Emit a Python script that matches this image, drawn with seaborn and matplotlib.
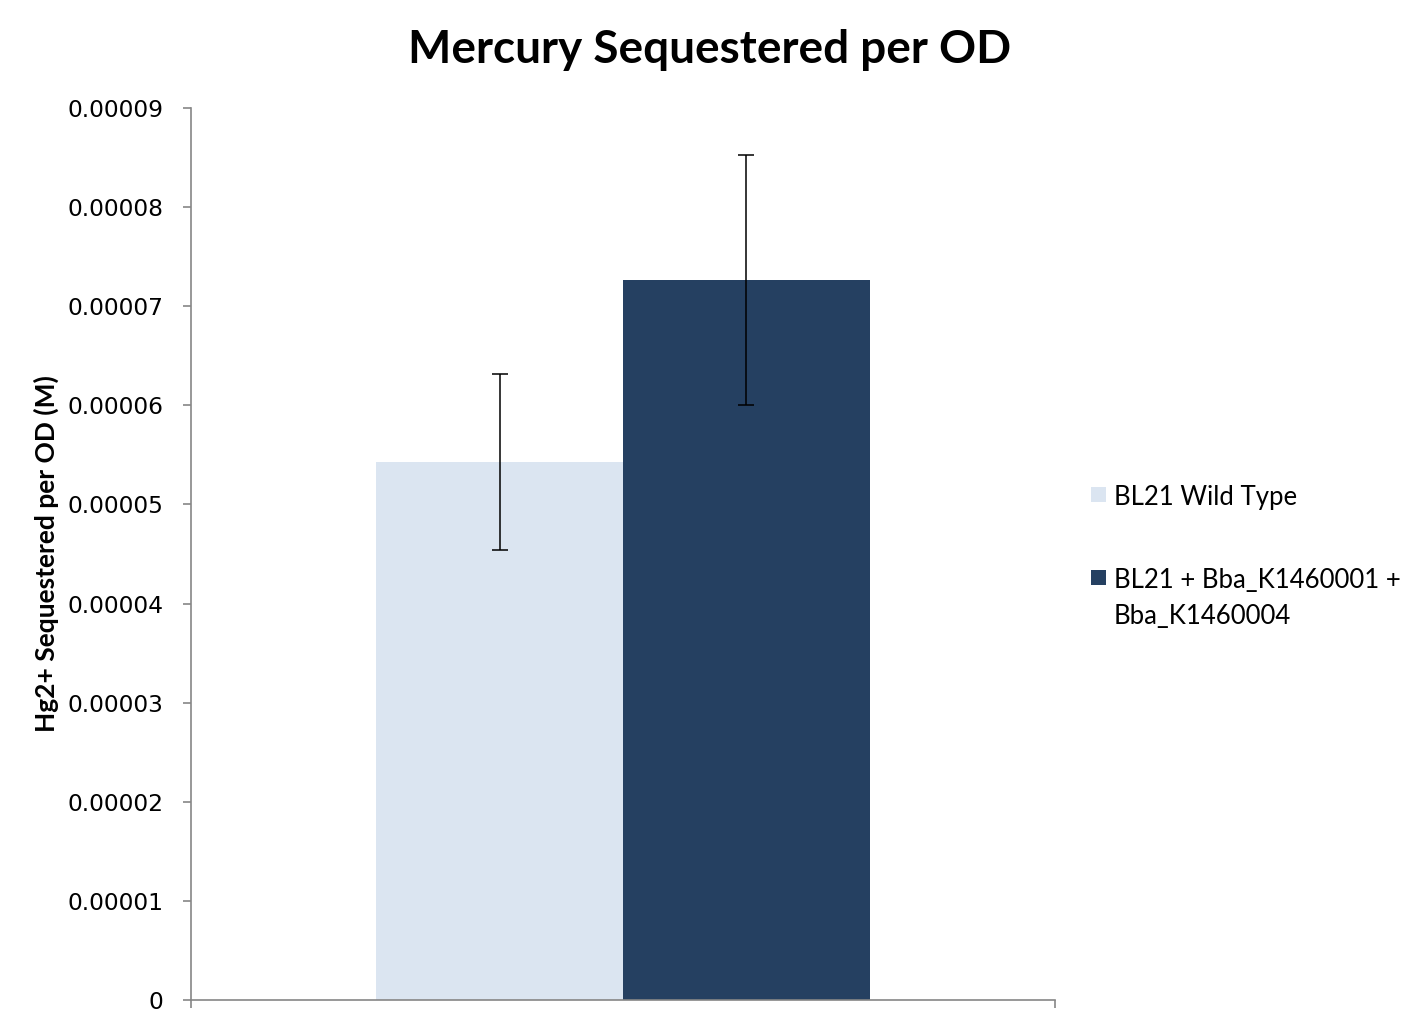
import matplotlib
matplotlib.use("Agg")
import matplotlib.pyplot as plt
import seaborn as sns
import pandas as pd
from matplotlib.patches import Rectangle

# ---- data ----
groups = ["BL21 Wild Type", "BL21 + Bba_K1460001 +\nBba_K1460004"]
values = [5.43e-5, 7.265e-5]
errors = [0.89e-5, 1.26e-5]
colors = ["#DBE5F1", "#254061"]
yticks = [0, 1e-5, 2e-5, 3e-5, 4e-5, 5e-5, 6e-5, 7e-5, 8e-5, 9e-5]
ytick_labels = ["0", "0.00001", "0.00002", "0.00003", "0.00004",
                "0.00005", "0.00006", "0.00007", "0.00008", "0.00009"]
title = "Mercury Sequestered per OD"
ylabel = "Hg2+ Sequestered per OD (M)"

df = pd.DataFrame({"cat": ["All"] * len(groups), "group": groups, "value": values})

sns.set_style("white")
plt.rcParams["font.family"] = ["DejaVu Sans"]
plt.rcParams["text.color"] = "black"
plt.rcParams["axes.labelcolor"] = "black"
plt.rcParams["xtick.color"] = "black"
plt.rcParams["ytick.color"] = "black"

W, H = 1420, 1029
fig = plt.figure(figsize=(W / 100, H / 100), dpi=100)
ax = fig.add_axes([191 / W, 1 - 1000 / H, (1055 - 191) / W, (1000 - 108) / H])

sns.barplot(data=df, x="cat", y="value", hue="group", hue_order=groups,
            palette=colors, width=0.571, errorbar=None, legend=False,
            saturation=1, ax=ax)

for cont, err in zip(ax.containers, errors):
    for p in cont.patches:
        p.set_edgecolor("none")
        p.set_linewidth(0)
        xc = p.get_x() + p.get_width() / 2
        ax.errorbar(xc, p.get_height(), yerr=err, fmt="none", ecolor="black",
                    elinewidth=1.1, capsize=5.5, capthick=1.1)

ax.set_xlim(-0.5, 0.5)
ax.set_ylim(0, 9e-5)
ax.set_yticks(yticks)
ax.set_yticklabels(ytick_labels)
ax.set_xticks([-0.5, 0.5])
ax.set_xticklabels(["", ""])
ax.set_xlabel("")
ax.set_ylabel(ylabel, fontfamily="Lato", fontweight="bold", fontsize=19,
              labelpad=6, color="black")

spine_c = "#868686"
for s in ["top", "right"]:
    ax.spines[s].set_visible(False)
for s in ["left", "bottom"]:
    ax.spines[s].set_color(spine_c)
    ax.spines[s].set_linewidth(1.2)
ax.tick_params(axis="y", direction="out", length=6, width=1.2, color=spine_c,
               pad=14, left=True, labelsize=16.8, labelcolor="black")
ax.tick_params(axis="x", direction="out", length=6, width=1.2, color=spine_c, bottom=True)
ax.grid(False)

fig.text(0.5, 1 - 50 / H, title, ha="center", va="center",
         fontfamily="Lato", fontweight="bold", fontsize=33, color="black")

# legend (drawn in figure pixel coordinates)
leg_y = [494.5, 577.5]
for c, lab, yc in zip(colors, groups, leg_y):
    fig.patches.append(Rectangle((1091 / W, 1 - (yc + 7.5) / H), 15 / W, 15 / H,
                                 transform=fig.transFigure, facecolor=c,
                                 edgecolor="none", figure=fig))
    fig.text(1114 / W, 1 - (yc - 10) / H, lab, ha="left", va="top",
             fontfamily="Lato", fontsize=18.5, color="black", linespacing=1.6)

fig.savefig("out.png", dpi=100)
